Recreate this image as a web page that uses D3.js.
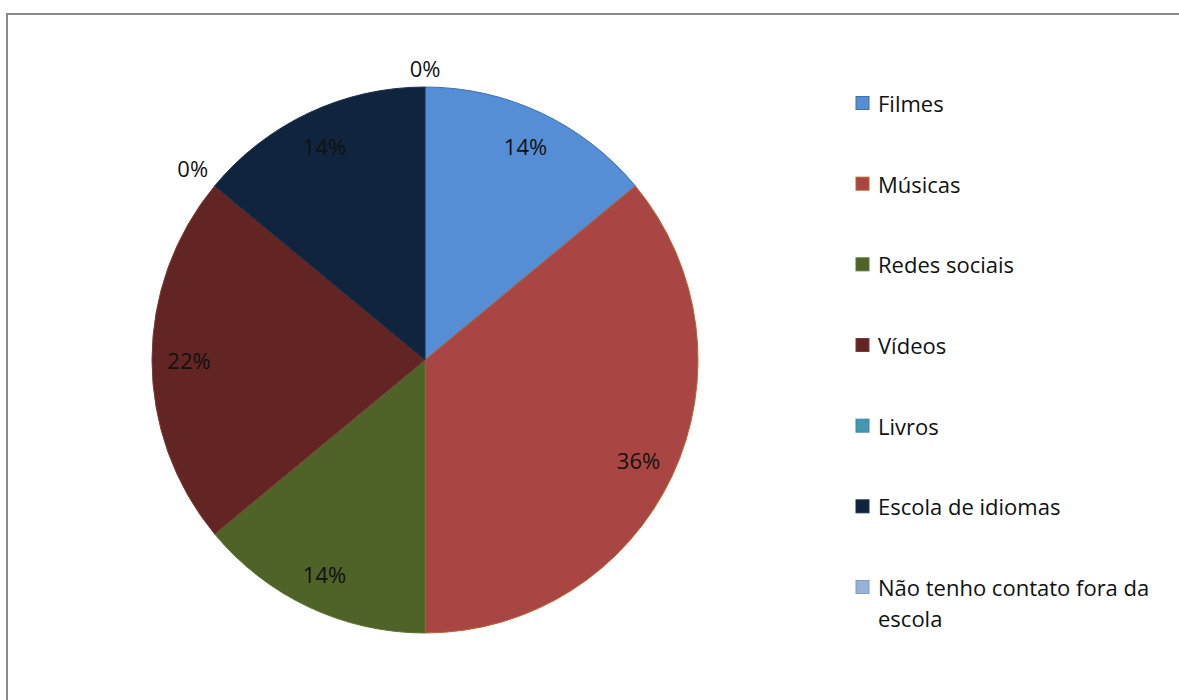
<!DOCTYPE html>
<html>
<head>
<meta charset="utf-8">
<script src="https://cdn.jsdelivr.net/npm/d3@7"></script>
<style>
  html, body { margin: 0; padding: 0; background: #fff; }
  svg { display: block; }
  text { font-family: "Open Sans", "Noto Sans", sans-serif; fill: #111; }
</style>
</head>
<body>
<svg id="chart" width="1179" height="700"></svg>
<script>
// Categories and their share of answers (percent)
const categories = ["Filmes", "Músicas", "Redes sociais", "Vídeos", "Livros", "Escola de idiomas", "Não tenho contato fora da escola"];
const shares = [14, 36, 14, 22, 0, 14, 0];
const fills = ["#558ED5", "#A94643", "#4F6228", "#632523", "#4198AF", "#10243E", "#95B3D7"];
const edges = ["#3F6FAE", "#B8642F", "#5E7434", "#7A3A38", "#3A8AA0", "#1B3050", "#7E9CC4"];

const svg = d3.select("#chart");
const W = 1179, H = 700;

// Outer chart frame (runs past the right and bottom of the view)
svg.append("rect")
  .attr("x", 7).attr("y", 14)
  .attr("width", W + 20).attr("height", H + 20)
  .attr("fill", "#fff")
  .attr("stroke", "#888888")
  .attr("stroke-width", 2);

const cx = 425, cy = 360, R = 273;
const total = d3.sum(shares);
const data = categories.map((c, i) => ({ name: c, value: shares[i], i }));

const pie = d3.pie().value(d => d.value).sort(null);
const arcs = pie(data);
const arc = d3.arc().innerRadius(0).outerRadius(R);

const g = svg.append("g").attr("transform", `translate(${cx},${cy})`);

g.selectAll("path.slice")
  .data(arcs.filter(a => a.data.value > 0))
  .join("path")
  .attr("class", "slice")
  .attr("d", arc)
  .attr("fill", d => fills[d.data.i])
  .attr("stroke", d => edges[d.data.i])
  .attr("stroke-width", 1);

// Percentage labels: inside for non-empty slices, outside for empty ones
const fontSize = 22;
const inner = d3.arc().innerRadius(236).outerRadius(236);
arcs.forEach(a => {
  const pct = Math.round(a.data.value / total * 100) + "%";
  let x, y;
  if (a.data.value > 0) {
    [x, y] = inner.centroid(a);
  } else {
    const ang = (a.startAngle + a.endAngle) / 2;
    const s = Math.sin(ang), c = Math.cos(ang);
    const hw = 17, hh = 10;
    const d = R + 9 + hw * Math.abs(s) + hh * Math.abs(c);
    x = d * s; y = -d * c;
  }
  g.append("text")
    .attr("x", x).attr("y", y)
    .attr("text-anchor", "middle")
    .attr("dominant-baseline", "central")
    .attr("font-size", fontSize)
    .text(pct);
});

// Legend
const legendX = 856, sw = 13, textX = 878;
const rowY = d3.scalePoint().domain(categories).range([103, 587]);
const maxW = 295;
categories.forEach((c, i) => {
  const y = rowY(c);
  svg.append("rect")
    .attr("x", legendX).attr("y", y - sw / 2)
    .attr("width", sw).attr("height", sw)
    .attr("fill", fills[i])
    .attr("stroke", edges[i]).attr("stroke-width", 1);
  const t = svg.append("text")
    .attr("x", textX).attr("y", y)
    .attr("dominant-baseline", "central")
    .attr("font-size", fontSize);
  // wrap long entries onto extra lines
  const words = c.split(" ");
  let line = [], lineNo = 0;
  let ts = t.append("tspan").attr("x", textX).attr("y", y);
  words.forEach(w => {
    line.push(w);
    ts.text(line.join(" "));
    if (ts.node().getComputedTextLength() > maxW && line.length > 1) {
      line.pop();
      ts.text(line.join(" "));
      line = [w];
      lineNo++;
      ts = t.append("tspan").attr("x", textX).attr("y", y + lineNo * 31).text(w);
    }
  });
});
</script>
</body>
</html>
